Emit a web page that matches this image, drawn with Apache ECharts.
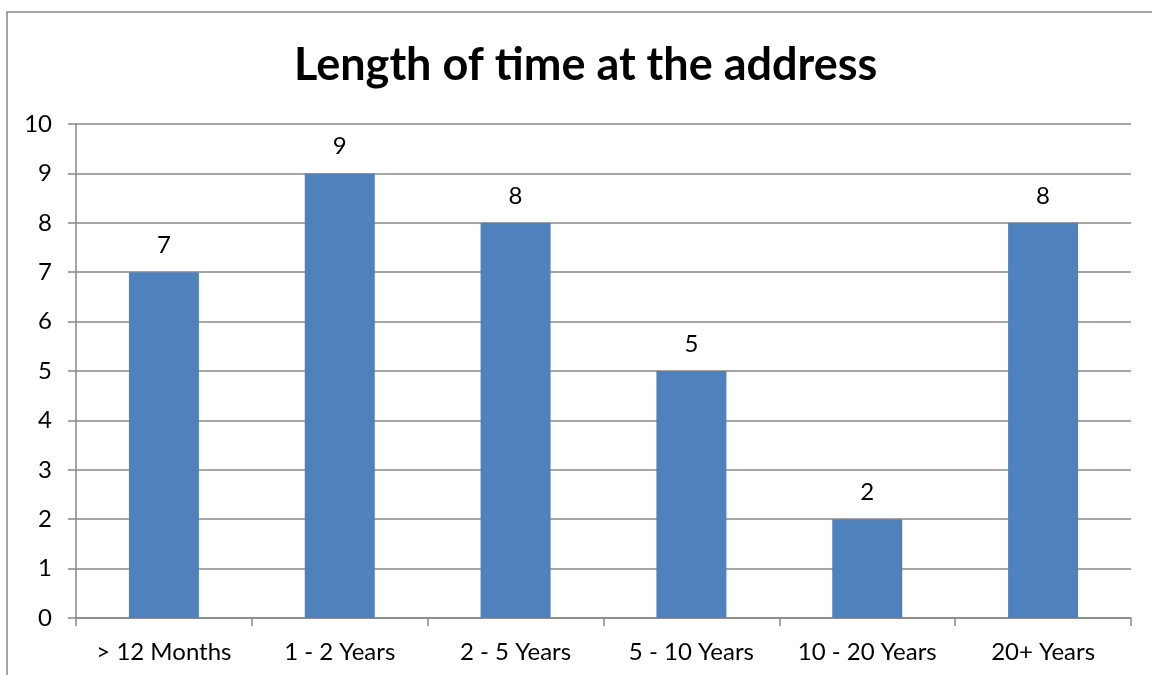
<!DOCTYPE html>
<html>
<head>
<meta charset="utf-8">
<script src="https://cdn.jsdelivr.net/npm/echarts@6/dist/echarts.min.js"></script>
<style>
  html, body { margin: 0; padding: 0; background: #fff; }
  #chart { width: 1152px; height: 675px; }
</style>
</head>
<body>
<div id="chart"></div>
<script>
// data
const categories = ['> 12 Months', '1 - 2 Years', '2 - 5 Years', '5 - 10 Years', '10 - 20 Years', '20+ Years'];
const counts = [7, 9, 8, 5, 2, 8];
const titleText = 'Length of time at the address';

const font = 'Lato, "Open Sans", sans-serif';

const myChart = echarts.init(document.getElementById('chart'));

myChart.setOption({
  animation: false,
  title: {
    text: titleText,
    left: 289,
    top: 38,
    textStyle: { fontFamily: font, fontSize: 45, fontWeight: 'bold', color: '#000' }
  },
  // outer frame
  graphic: [{
    type: 'rect',
    shape: { x: 7, y: 12, width: 1160, height: 700 },
    style: { fill: 'none', stroke: '#888', lineWidth: 1.5 },
    silent: true
  }],
  grid: { left: 76, right: 21, top: 124, bottom: 57 },
  xAxis: {
    type: 'category',
    data: categories,
    axisLine: { lineStyle: { color: '#888', width: 1.5 } },
    axisTick: { show: true, interval: 0, length: 8, lineStyle: { color: '#888', width: 1.5 } },
    axisLabel: { interval: 0, hideOverlap: false, fontFamily: font, fontSize: 24, color: '#000', margin: 22 }
  },
  yAxis: {
    type: 'value',
    min: 0,
    max: 10,
    interval: 1,
    axisLine: { show: true, lineStyle: { color: '#888', width: 1.5 } },
    axisTick: { show: true, inside: false, length: 8, lineStyle: { color: '#888', width: 1.5 } },
    splitLine: { lineStyle: { color: '#888', width: 1.5 } },
    axisLabel: { fontFamily: font, fontSize: 24, color: '#000', margin: 24 }
  },
  series: [{
    type: 'bar',
    data: counts,
    barWidth: 70,
    itemStyle: { color: '#4F81BD' },
    label: {
      show: true,
      position: 'top',
      distance: 15,
      fontFamily: font,
      fontSize: 24,
      color: '#000'
    }
  }]
});
</script>
</body>
</html>
